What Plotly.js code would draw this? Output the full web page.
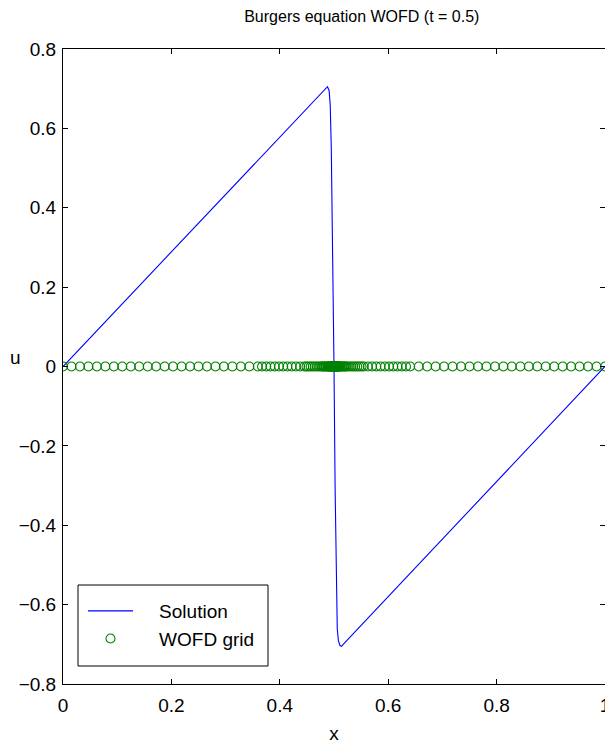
<!DOCTYPE html>
<html>
<head>
<meta charset="utf-8">
<script src="https://cdn.plot.ly/plotly-3.0.1.min.js"></script>
<style>
  html, body { margin: 0; padding: 0; background: #fff; }
  #chart { width: 605px; height: 744px; }
</style>
</head>
<body>
<div id="chart"></div>
<script>
// Solution curve (x, u)
const solX = [0, 0.1, 0.2, 0.3, 0.4, 0.48, 0.485, 0.488, 0.491, 0.493, 0.495, 0.497, 0.5, 0.502, 0.504, 0.506, 0.508, 0.511, 0.514, 0.517, 0.6, 0.7, 0.8, 0.9, 1];
const solU = [0, 0.145, 0.29, 0.435, 0.58, 0.695, 0.703, 0.705, 0.695, 0.66, 0.55, 0.35, 0, -0.3, -0.55, -0.66, -0.69, -0.703, -0.705, -0.70, -0.58, -0.435, -0.29, -0.145, 0];

// WOFD adaptive grid nodes (all drawn at u = 0)
const gridX = [
  0, 0.0156, 0.0313, 0.0469, 0.0625, 0.0781, 0.0938, 0.1094, 0.125, 0.1406, 0.1563, 0.1719,
  0.1875, 0.2031, 0.2188, 0.2344, 0.25, 0.2656, 0.2813, 0.2969, 0.3125, 0.3281, 0.3438, 0.3594,
  0.3672, 0.375, 0.3828, 0.3906, 0.3984, 0.4063, 0.4141, 0.4219, 0.4297, 0.4375, 0.4453,
  0.4492, 0.4531, 0.4570, 0.4609, 0.4648, 0.4688, 0.4727, 0.4766,
  0.4785, 0.4805, 0.4824, 0.4844, 0.4863, 0.4883,
  0.4893, 0.4902, 0.4912, 0.4922, 0.4932, 0.4941,
  0.4946, 0.4951, 0.4956, 0.4961, 0.4966, 0.4971, 0.4976, 0.4980, 0.4985, 0.4990, 0.4995, 0.5,
  0.5005, 0.5010, 0.5015, 0.5020, 0.5024, 0.5029, 0.5034, 0.5039, 0.5044, 0.5049, 0.5054, 0.5059,
  0.5068, 0.5078, 0.5088, 0.5098, 0.5107, 0.5117,
  0.5137, 0.5156, 0.5176, 0.5195, 0.5215, 0.5234,
  0.5273, 0.5313, 0.5352, 0.5391, 0.5430, 0.5469, 0.5508, 0.5547,
  0.5625, 0.5703, 0.5781, 0.5859, 0.5938, 0.6016, 0.6094, 0.6172, 0.6250, 0.6328, 0.6406,
  0.6563, 0.6719, 0.6875, 0.7031, 0.7188, 0.7344, 0.75, 0.7656, 0.7813, 0.7969, 0.8125, 0.8281,
  0.8438, 0.8594, 0.8750, 0.8906, 0.9063, 0.9219, 0.9375, 0.9531, 0.9688, 0.9844, 1
];
const gridU = new Array(gridX.length).fill(0);

const xTicks = [0, 0.2, 0.4, 0.6, 0.8, 1];
const xTickText = ['0', '0.2', '0.4', '0.6', '0.8', '1'];
const yTicks = [-0.8, -0.6, -0.4, -0.2, 0, 0.2, 0.4, 0.6, 0.8];
const yTickText = ['\u22120.8', '\u22120.6', '\u22120.4', '\u22120.2', '0', '0.2', '0.4', '0.6', '0.8'];

const FONT = 'Liberation Sans, Arial, Helvetica, sans-serif';
const PAD = '\u00a0\u00a0\u00a0\u00a0';

const traces = [
  {
    x: solX, y: solU, type: 'scatter', mode: 'lines', name: PAD + 'Solution', legendgroup: 'a',
    line: { color: '#0000ff', width: 1.1 }
  },
  {
    x: gridX, y: gridU, type: 'scatter', mode: 'markers', name: PAD + 'WOFD grid', legendgroup: 'b',
    marker: { symbol: 'circle-open', color: '#008000', size: 9, line: { width: 1.1, color: '#008000' } }
  }
];

const layout = {
  width: 605, height: 744,
  margin: { l: 63, r: 0, t: 49, b: 60, pad: 0 },
  paper_bgcolor: '#fff', plot_bgcolor: '#fff',
  font: { family: FONT, size: 19, color: '#000' },
  title: {
    text: 'Burgers equation WOFD (t = 0.5)',
    font: { family: FONT, size: 16, color: '#000' },
    x: 0.598, xanchor: 'center', y: 0.978, yanchor: 'middle'
  },
  showlegend: true,
  legend: {
    x: (83 - 63) / 542, y: (684 - 592) / 635, xanchor: 'left', yanchor: 'top',
    bgcolor: 'rgba(0,0,0,0)', borderwidth: 0,
    font: { family: FONT, size: 19, color: '#000' },
    itemwidth: 45, traceorder: 'grouped', tracegroupgap: 0
  },
  shapes: [
    {
      type: 'rect', xref: 'paper', yref: 'paper',
      x0: (78 - 63) / 542, x1: (268 - 63) / 542,
      y0: (684 - 666) / 635, y1: (684 - 585) / 635,
      line: { color: '#000', width: 1 }, fillcolor: '#fff', layer: 'above'
    }
  ],
  xaxis: {
    range: [0, 1], tickvals: xTicks, ticktext: xTickText,
    ticks: 'inside', ticklen: 5, tickwidth: 1, tickcolor: '#000',
    showline: true, linecolor: '#000', linewidth: 1, mirror: 'ticks',
    showgrid: false, zeroline: false, ticklabeloverflow: 'allow', ticklabelstandoff: 4,
    tickfont: { family: FONT, size: 19, color: '#000' },
    title: { text: 'x', font: { family: FONT, size: 19, color: '#000' }, standoff: 14 }
  },
  yaxis: {
    range: [-0.8, 0.8], tickvals: yTicks, ticktext: yTickText,
    ticks: 'inside', ticklen: 5, tickwidth: 1, tickcolor: '#000',
    showline: true, linecolor: '#000', linewidth: 1, mirror: 'ticks',
    showgrid: false, zeroline: false, ticklabelstandoff: 2,
    tickfont: { family: FONT, size: 19, color: '#000' }
  },
  annotations: [
    {
      text: 'u', xref: 'paper', yref: 'paper', x: -0.088, y: 0.514, xanchor: 'center', yanchor: 'middle',
      showarrow: false, font: { family: FONT, size: 19, color: '#000' }
    }
  ]
};

Plotly.newPlot('chart', traces, layout, { displayModeBar: false, staticPlot: true });
</script>
</body>
</html>
